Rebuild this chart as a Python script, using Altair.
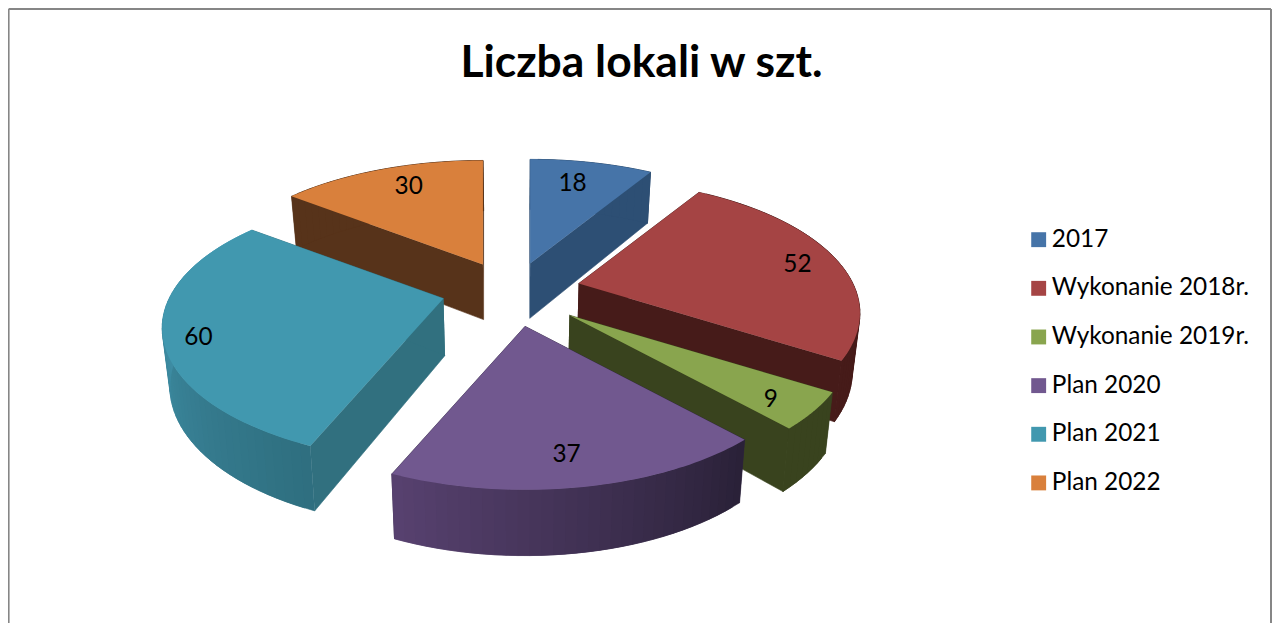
import math
import altair as alt
import pandas as pd

series = ["2017", "Wykonanie 2018r.", "Wykonanie 2019r.", "Plan 2020", "Plan 2021", "Plan 2022"]
values = [18, 52, 9, 37, 60, 30]
tops = ["#4674a8", "#a54444", "#89a54e", "#71588f", "#4198af", "#d9803c"]
cuts = ["#2d4f74", "#461b19", "#39431e", "#2f2540", "#31707f", "#57331a"]
rim_start = ["#2d4f74", "#461b19", "#39431e", "#2a2138", "#2f6f80", "#57331a"]
rim_end = ["#2d4f74", "#461b19", "#39431e", "#57416f", "#48a1bb", "#57331a"]
paint_order = [0, 5, 1, 4, 2, 3]

# Perspective pie geometry (page pixels)
CX, CY, EA, EB = 512.8, 293, 67.6, 32.8
A, B, K, DEPTH, SHRINK = 274.3, 127.2, 0.222, 56.6, 0.978
LABEL_R = 0.83
apex_nudge = [(-1, 2), (0, -2), (5, 1), (1, 1), (-4, -3), (0, 1)]
label_nudge = [(-10, 7), (6, 4), (4, 7), (-5, 1), (-14, 11), (12, 4)]


def lerp(c1, c2, t):
    a = [int(c1[i:i + 2], 16) for i in (1, 3, 5)]
    b = [int(c2[i:i + 2], 16) for i in (1, 3, 5)]
    return "#%02x%02x%02x" % tuple(round(p + (q - p) * t) for p, q in zip(a, b))


total = sum(values)
angles = []
run = 0.0
for v in values:
    angles.append((run, run + v / total * 2 * math.pi))
    run = angles[-1][1]


def apex(i):
    m = sum(angles[i]) / 2
    return (CX + EA * math.sin(m) + apex_nudge[i][0],
            CY - EB * math.cos(m) + apex_nudge[i][1],
            1 + K * 0.24 * math.cos(m))


def top_pt(i, t, r=1.0):
    ax, ay, _ = apex(i)
    u, w = r * math.sin(t), r * math.cos(t)
    den = 1 + K * w
    return ax + A * u / den, ay - B * w / den, den


def low(p):
    x, y, den = p
    return CX + (x - CX) * SHRINK, y + DEPTH / den ** 0.6


walls, faces, labels = [], [], []
pid = 0


def add(rows, pts, **kw):
    global pid
    pid += 1
    for n, p in enumerate(pts):
        rows.append({"x": p[0], "y": p[1], "n": n, "poly": pid, **kw})


for i in paint_order:
    t0, t1 = angles[i]
    ap = apex(i)
    ap_low = low(ap)
    for t in (t0, t1):
        p = top_pt(i, t)
        add(walls, [ap, p, low(p), ap_low], shade=cuts[i])
    steps = max(8, int((t1 - t0) * 30))
    for s in range(steps):
        a0 = t0 + (t1 - t0) * s / steps
        a1 = min(t1, t0 + (t1 - t0) * (s + 2) / steps)
        pa, pb = top_pt(i, a0), top_pt(i, a1)
        shade = lerp(rim_start[i], rim_end[i], s / (steps - 1))
        add(walls, [pa, pb, low(pb), low(pa)], shade=shade)

for i in range(len(series)):
    t0, t1 = angles[i]
    steps = 60
    pts = [apex(i)] + [top_pt(i, t0 + (t1 - t0) * s / steps) for s in range(steps + 1)]
    add(faces, pts, series=series[i])
    lx, ly, _ = top_pt(i, sum(angles[i]) / 2, LABEL_R)
    labels.append({"x": lx + label_nudge[i][0], "y": ly + label_nudge[i][1], "label": str(values[i])})

PAD_TOP = 80
W, H = 1264, 535
xs = alt.Scale(domain=[8, 8 + W], range=[0, W], nice=False, zero=False)
ys = alt.Scale(domain=[8 + PAD_TOP + H, 8 + PAD_TOP], range=[H, 0], nice=False, zero=False)
X = alt.X("x:Q", scale=xs, axis=None)
Y = alt.Y("y:Q", scale=ys, axis=None)

wall_layer = alt.Chart(pd.DataFrame(walls)).mark_line(strokeWidth=0.6, clip=False).encode(
    x=X, y=Y, order="n:Q", detail="poly:N",
    fill=alt.Fill("shade:N", scale=None),
    stroke=alt.Stroke("shade:N", scale=None),
)
face_layer = alt.Chart(pd.DataFrame(faces)).mark_line(strokeWidth=0, strokeOpacity=0).encode(
    x=X, y=Y, order="n:Q", detail="poly:N",
    fill=alt.Fill(
        "series:N",
        scale=alt.Scale(domain=series, range=tops),
        legend=alt.Legend(
            title=None, orient="none", legendX=1018.5, legendY=139.5, symbolType="square",
            symbolSize=222, symbolStrokeWidth=0, symbolOpacity=1, labelFont="Lato", labelFontSize=24.35,
            labelColor="#000000", labelOffset=1, rowPadding=23.65, padding=0, labelLimit=300,
        ),
    ),
)
label_layer = alt.Chart(pd.DataFrame(labels)).mark_text(
    font="Lato", fontSize=24.35, color="#000000", baseline="middle"
).encode(x=X, y=Y, text="label:N")

frame = pd.DataFrame([
    {"x": 8.6, "x2": 1271, "y": 9, "y2": 9},
    {"x": 8.6, "x2": 8.6, "y": 9, "y2": 623},
    {"x": 1271, "x2": 1271, "y": 9, "y2": 623},
])
frame_layer = alt.Chart(frame).mark_rule(color="#868686", strokeWidth=2, clip=False).encode(
    x=X, y=Y, x2="x2:Q", y2="y2:Q"
)

chart = (
    alt.layer(frame_layer, wall_layer, face_layer, label_layer)
    .resolve_scale(fill="independent", stroke="independent")
    .properties(
        width=W, height=H,
        padding={"left": 0, "top": PAD_TOP, "right": 0, "bottom": 0},
        autosize=alt.AutoSizeParams(type="none"),
        title=alt.TitleParams(
            "Liczba lokali w szt.", font="Lato", fontSize=44.4, fontWeight="bold",
            color="#000000", anchor="middle", dx=1.5, offset=-78,
        ),
    )
    .configure_view(stroke=None)
)

chart.save("out.html", embed_options={"renderer": "svg", "actions": False})
